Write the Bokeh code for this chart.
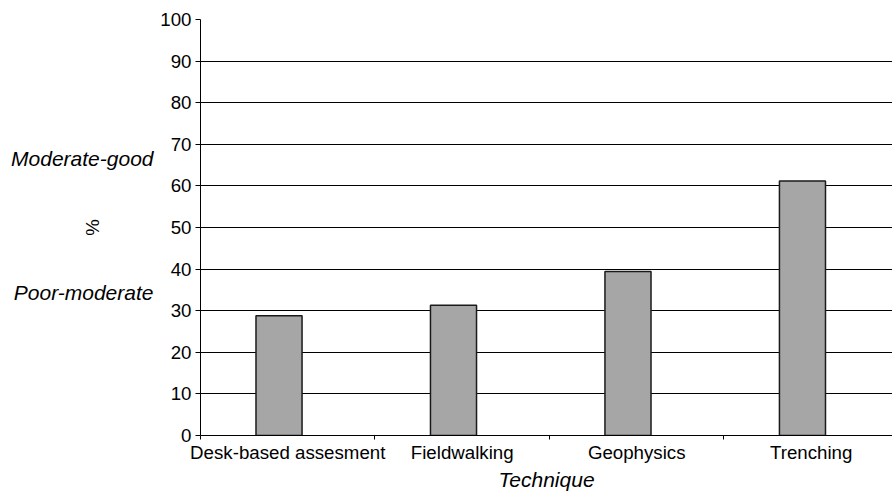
import numpy as np
from bokeh.plotting import figure
from bokeh.models import ColumnDataSource, FixedTicker, LinearAxis, Range1d
from bokeh.embed import file_html
from bokeh.resources import INLINE

techniques = ["Desk-based assesment", "Fieldwalking", "Geophysics", "Trenching"]
percent = [28.8, 31.3, 39.4, 61.2]
y_ticks = [0, 10, 20, 30, 40, 50, 60, 70, 80, 90, 100]
quality_labels = ["Moderate-good", "Poor-moderate"]
quality_pos = [66.7, 34.3]

FONT = "Liberation Sans"
FS = "18.7px"
FS_IT = "21px"

idx = np.arange(len(techniques))
src = ColumnDataSource(dict(x=idx + 0.45, top=percent))

p = figure(width=892, height=493, output_backend="svg", toolbar_location=None,
           x_range=Range1d(0, 3.966), y_range=Range1d(0, 100),
           min_border_left=200, min_border_right=0, min_border_top=19,
           min_border_bottom=57)
p.outline_line_color = None
p.background_fill_color = "white"
p.border_fill_color = "white"

p.vbar(x="x", top="top", bottom=0, width=0.264, source=src,
       fill_color="#a6a6a6", line_color="#1a1a1a", line_width=1.5)

# y axis (numbers)
p.yaxis.ticker = FixedTicker(ticks=y_ticks)
p.yaxis.major_tick_out = 5
p.yaxis.major_tick_in = 0
p.yaxis.minor_tick_line_color = None
p.yaxis.axis_line_color = "black"
p.yaxis.major_tick_line_color = "black"
p.yaxis.major_label_text_font = FONT
p.yaxis.major_label_text_font_size = FS
p.yaxis.major_label_text_color = "black"
p.yaxis.major_label_standoff = 4

# extra left axis carrying the quality descriptions and the % label
qa = LinearAxis(ticker=FixedTicker(ticks=quality_pos),
                major_label_overrides={v: t for v, t in zip(quality_pos, quality_labels)},
                axis_line_color=None, major_tick_line_color=None,
                minor_tick_line_color=None, major_tick_out=0, major_tick_in=0,
                minor_tick_out=0, minor_tick_in=0,
                major_label_standoff=4,
                major_label_text_font=FONT, major_label_text_font_size=FS_IT,
                major_label_text_font_style="italic", major_label_text_color="black",
                axis_label="%", axis_label_text_font=FONT,
                axis_label_text_font_size=FS, axis_label_text_font_style="normal",
                axis_label_text_color="black", axis_label_standoff=-95)
p.add_layout(qa, "left")

# x axis
centers = [float(i) + 0.5 for i in idx]
p.xaxis.ticker = FixedTicker(ticks=centers, minor_ticks=[0, 1, 2, 3])
p.xaxis.major_label_overrides = {c: t for c, t in zip(centers, techniques)}
p.xaxis.major_tick_line_color = None
p.xaxis.major_tick_out = 0
p.xaxis.major_tick_in = 0
p.xaxis.minor_tick_line_color = "black"
p.xaxis.minor_tick_out = 4
p.xaxis.minor_tick_in = 0
p.xaxis.axis_line_color = "black"
p.xaxis.major_label_text_font = FONT
p.xaxis.major_label_text_font_size = FS
p.xaxis.major_label_text_color = "black"
p.xaxis.major_label_standoff = 2
p.xaxis.axis_label = "Technique"
p.xaxis.axis_label_text_font = FONT
p.xaxis.axis_label_text_font_size = FS_IT
p.xaxis.axis_label_text_font_style = "italic"
p.xaxis.axis_label_text_color = "black"
p.xaxis.axis_label_standoff = 2

p.xgrid.grid_line_color = None
p.ygrid.ticker = FixedTicker(ticks=y_ticks)
p.ygrid.grid_line_color = "black"
p.ygrid.grid_line_width = 1

open("out.html", "w").write(file_html(p, INLINE))
